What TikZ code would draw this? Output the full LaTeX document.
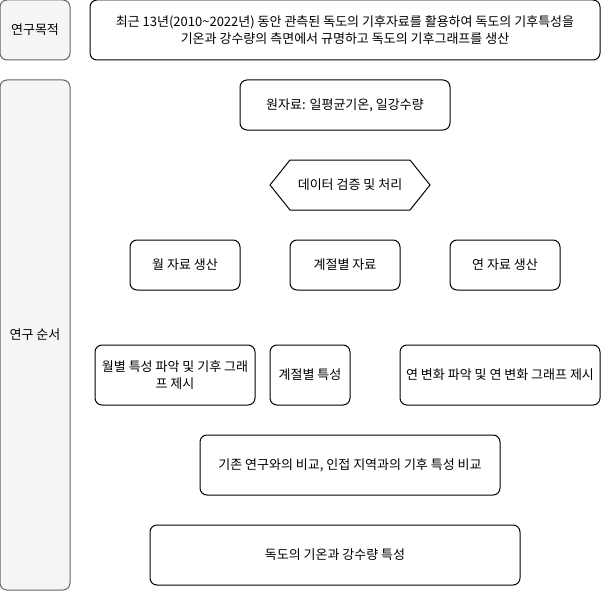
\documentclass[tikz,border=0pt]{standalone}
\usepackage{fontspec}
\setmainfont{Noto Sans CJK KR}
\usepackage{tikz}
\definecolor{sidegray}{HTML}{F5F5F5}
\definecolor{sideline}{HTML}{666666}

\begin{document}
\begin{tikzpicture}[x=1pt,y=-1pt]
            \tikzstyle{box}=[draw=black,line width=1pt,rounded corners=7pt,align=center,inner sep=2pt,font=\fontsize{13}{17}\selectfont]
            \tikzstyle{side}=[box,draw=sideline,fill=sidegray]
    \useasboundingbox (0,0) rectangle (601,591);
    % left column
    \node[side,minimum width=70pt,minimum height=60pt] (goal) at (35,30) {연구목적};
    \node[side,minimum width=70pt,minimum height=510pt] (order) at (35,335) {연구 순서};
    % objective
    \node[box,minimum width=510pt,minimum height=60pt] (goaltext) at (345,30)
      {최근 13년(2010\textasciitilde 2022년) 동안 관측된 독도의 기후자료를 활용하여 독도의 기후특성을\\기온과 강수량의 측면에서 규명하고 독도의 기후그래프를 생산};
    % steps
    \node[box,minimum width=210pt,minimum height=50pt] (raw) at (345,105) {원자료: 일평균기온, 일강수량};
    \draw[line width=1pt] (270,185) -- (290,160) -- (410,160) -- (430,185) -- (410,210) -- (290,210) -- cycle;
    \node[font=\fontsize{13}{17}\selectfont] (prep) at (350,185) {데이터 검증 및 처리};
    \node[box,minimum width=110pt,minimum height=50pt] (month) at (185,265) {월 자료 생산};
    \node[box,minimum width=110pt,minimum height=50pt] (season) at (345,265) {계절별 자료};
    \node[box,minimum width=110pt,minimum height=50pt] (year) at (505,265) {연 자료 생산};
    \node[box,minimum width=160pt,minimum height=60pt] (monthc) at (175,375) {월별 특성 파악 및 기후 그래\\프 제시};
    \node[box,minimum width=80pt,minimum height=60pt] (seasonc) at (310,375) {계절별 특성};
    \node[box,minimum width=200pt,minimum height=60pt] (yearc) at (500,375) {연 변화 파악 및 연 변화 그래프 제시};
    \node[box,minimum width=300pt,minimum height=60pt] (compare) at (350,465) {기존 연구와의 비교, 인접 지역과의 기후 특성 비교};
    \node[box,minimum width=370pt,minimum height=60pt] (result) at (335,555) {독도의 기온과 강수량 특성};
\end{tikzpicture}
\end{document}
